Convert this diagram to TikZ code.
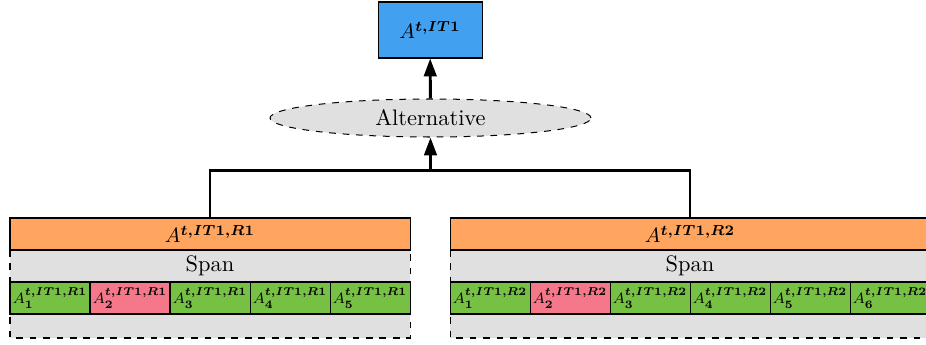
\documentclass[tikz,border=0pt]{standalone}
\usepackage{bm}
\usetikzlibrary{arrows.meta,shapes.geometric}
\definecolor{cblue}{RGB}{66,160,240}
\definecolor{corange}{RGB}{255,165,95}
\definecolor{cgreen}{RGB}{118,192,67}
\definecolor{cpink}{RGB}{245,120,138}
\definecolor{cgray}{RGB}{224,224,224}
\def\px{0.446pt}
\newcommand{\hdr}[1]{\scalebox{0.93}{$#1$}}
\newcommand{\cel}[1]{\makebox[0pt]{\scalebox{0.84}{$#1$}}}
\tikzset{
  conn/.style={line width=1.3pt,-{Triangle[length=8pt,width=5.6pt]}},
  joinline/.style={line width=1.1pt},
  bluebox/.style={draw,fill=cblue,line width=0.45pt,minimum width=104*\px,minimum height=56*\px,inner sep=0pt},
  altell/.style={ellipse,draw,dashed,fill=cgray,line width=0.45pt,minimum width=321*\px,minimum height=38*\px,inner sep=0pt},
  headbox/.style={draw,fill=corange,line width=0.45pt,minimum width=400*\px,minimum height=32*\px,inner sep=0pt},
  headboxb/.style={headbox,minimum width=480*\px},
  spanbox/.style={draw,dashed,fill=cgray,line width=0.45pt},
  cell/.style={draw,fill=cgreen,line width=0.45pt,font=\footnotesize,minimum width=80*\px,minimum height=32*\px,inner sep=0pt},
  badcell/.style={cell,fill=cpink},
}
\begin{document}
\begin{tikzpicture}[x=\px,y=-\px]
\useasboundingbox (0,0) rectangle (926,344);
\clip (0,0) rectangle (926,344);
% top
\node[bluebox] (it) at (430,30) {\hdr{A^{\bm{t,IT1}}}};
\node[altell] (alt) at (430.5,118) {Alternative};
\draw[conn] (alt) -- (it);
% left group
\draw[spanbox] (10,250) rectangle (410,338);
\node[headbox] (r1) at (210,234) {\hdr{A^{\bm{t,IT1,R1}}}};
\node (s1) at (210,266) {Span};
\foreach \i in {1,...,5}{
  \ifnum\i=2
    \node[badcell] (a\i) at ({10+80*\i-40},298) {\cel{A_{\bm{\i}}^{\bm{t,IT1,R1}}}};
  \else
    \node[cell] (a\i) at ({10+80*\i-40},298) {\cel{A_{\bm{\i}}^{\bm{t,IT1,R1}}}};
  \fi
}
% right group
\draw[spanbox] (450,250) rectangle (930,338);
\node[headboxb] (r2) at (690,234) {\hdr{A^{\bm{t,IT1,R2}}}};
\node (s2) at (690,266) {Span};
\foreach \i in {1,...,6}{
  \ifnum\i=2
    \node[badcell] (b\i) at ({450+80*\i-40},298) {\cel{A_{\bm{\i}}^{\bm{t,IT1,R2}}}};
  \else
    \node[cell] (b\i) at ({450+80*\i-40},298) {\cel{A_{\bm{\i}}^{\bm{t,IT1,R2}}}};
  \fi
}
% connectors
\coordinate (j) at (430.5,170.5);
\draw[joinline] (r1.north) |- (j) -| (r2.north);
\draw[conn] (j) -- (alt);
\end{tikzpicture}
\end{document}
